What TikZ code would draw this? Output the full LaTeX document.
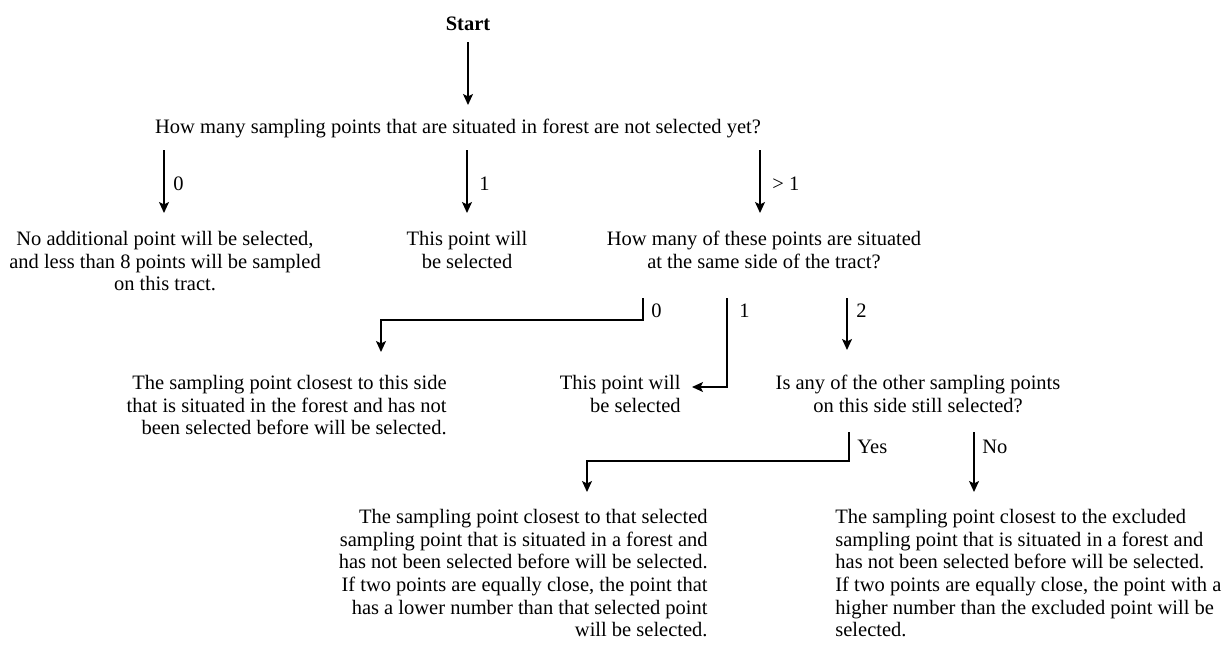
\documentclass[tikz,border=0pt]{standalone}
\usepackage{fontspec}
\setmainfont{Liberation Serif}
\usetikzlibrary{arrows.meta}
\begin{document}
\begin{tikzpicture}[x=0.5pt,y=-0.5pt,
  txt/.style={inner sep=0pt, font=\fontsize{10.25pt}{11.3pt}\selectfont},
  lbl/.style={inner sep=0pt, font=\fontsize{10.25pt}{11.3pt}\selectfont, anchor=base west},
  arr/.style={line width=0.75pt, -{Stealth[length=5.5pt,width=5pt,inset=1.2pt]}},
  ln/.style={line width=0.75pt}]
\useasboundingbox (0,0) rectangle (1225,648);

% nodes
\node[txt, font=\fontsize{10.25pt}{11.3pt}\selectfont\bfseries, anchor=base] (start) at (468,30) {Start};
\node[txt, anchor=base] (q1) at (458,133) {How many sampling points that are situated in forest are not selected yet?};

\node[txt, align=center, anchor=north] (n0) at (165,231) {No additional point will be selected,\\and less than 8 points will be sampled\\on this tract.};
\node[txt, align=center, anchor=north] (n1) at (467,231) {This point will\\be selected};
\node[txt, align=center, anchor=north] (q2) at (764,231) {How many of these points are situated\\at the same side of the tract?};

\node[txt, align=right, anchor=north east] (m0) at (447,375) {The sampling point closest to this side\\that is situated in the forest and has not\\been selected before will be selected.};
\node[txt, align=right, anchor=north east] (m1) at (681,375) {This point will\\be selected};
\node[txt, align=center, anchor=north] (q3) at (918,375) {Is any of the other sampling points\\on this side still selected?};

\node[txt, align=right, anchor=north east] (y0) at (708,509) {The sampling point closest to that selected\\sampling point that is situated in a forest and\\has not been selected before will be selected.\\If two points are equally close, the point that\\has a lower number than that selected point\\will be selected.};
\node[txt, align=left, anchor=north west] (y1) at (835,509) {The sampling point closest to the excluded\\sampling point that is situated in a forest and\\has not been selected before will be selected.\\If two points are equally close, the point with a\\higher number than the excluded point will be\\selected.};

% labels
\node[lbl] (l10) at (173,190) {0};
\node[lbl] (l11) at (479,190) {1};
\node[lbl] (l12) at (772,190) {> 1};
\node[lbl] (l20) at (651,317) {0};
\node[lbl] (l21) at (739,317) {1};
\node[lbl] (l22) at (856,317) {2};
\node[lbl] (l3y) at (857,453) {Yes};
\node[lbl] (l3n) at (982,453) {No};

% connectors
\draw[arr] (468,42) -- (468,105);
\draw[arr] (164,150) -- (164,213);
\draw[arr] (467,150) -- (467,213);
\draw[arr] (760,150) -- (760,213);

\draw[arr] (643,298) -- (643,320) -- (381,320) -- (381,352);
\draw[arr] (727,298) -- (727,387) -- (692,387);
\draw[arr] (847,298) -- (847,350);

\draw[arr] (849,432) -- (849,461) -- (587,461) -- (587,492);
\draw[arr] (974,432) -- (974,492);
\end{tikzpicture}
\end{document}
